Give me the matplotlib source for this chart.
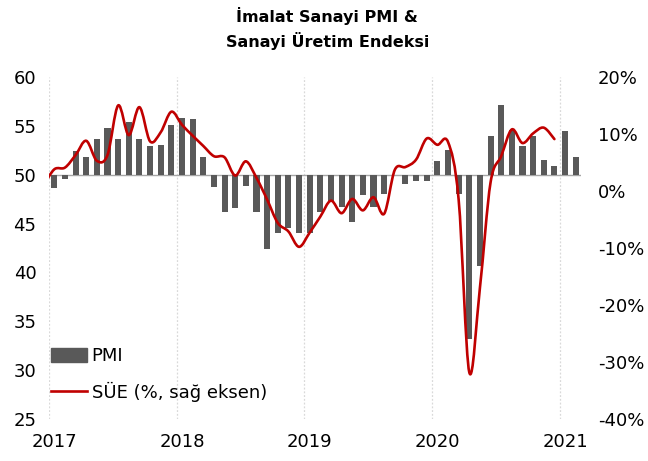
import matplotlib
matplotlib.use("Agg")
import matplotlib.pyplot as plt
import numpy as np
import pandas as pd
from matplotlib.path import Path
from matplotlib.patches import PathPatch, Patch
from matplotlib.lines import Line2D
from matplotlib.ticker import FuncFormatter

# aylar: Ocak 2017 - Subat 2021
aylar = pd.date_range("2017-01-01", "2021-02-01", freq="MS")
yillar = ["2017", "2018", "2019", "2020", "2021"]

pmi = [48.6, 49.6, 52.4, 51.8, 53.7, 54.8, 53.7, 55.4, 53.7, 52.9, 53.0, 55.1,
       55.8, 55.7, 51.8, 48.7, 46.2, 46.6, 48.8, 46.2, 42.4, 44.0, 44.5, 44.0,
       44.0, 46.2, 47.2, 46.7, 45.2, 47.9, 46.7, 48.0, 50.0, 49.0, 49.4, 49.4,
       51.4, 52.5, 48.0, 33.2, 40.7, 54.0, 57.1, 54.6, 52.9, 54.0, 51.5, 50.9,
       54.5, 51.8]

# SUE yillik degisim (%), Aralik 2016 - Aralik 2020
sue_aylar = pd.date_range("2016-12-01", "2020-12-01", freq="MS")
sue = [1.0,
       3.8, 4.1, 6.3, 8.8, 5.3, 6.3, 15.0, 9.8, 14.7, 8.7, 10.3, 13.9,
       11.6, 9.7, 7.9, 6.1, 5.9, 2.7, 5.2, 2.3, -1.5, -5.6, -7.1, -9.8,
       -7.3, -4.5, -1.7, -3.9, -1.4, -3.4, -1.1, -4.0, 3.7, 4.2, 5.5, 9.2,
       8.1, 8.6, -1.5, -31.8, -17.0, 1.5, 6.1, 10.8, 8.4, 10.1, 11.1, 9.1]

bar_renk = "#595959"
cizgi_renk = "#C00000"


def ay_index(tarihler):
    bas = aylar[0]
    return np.array([(t.year - bas.year) * 12 + (t.month - bas.month) + 0.5 for t in tarihler])


def smooth_path(x, y):
    # excel tarzi yumusatilmis cizgi (catmull-rom -> bezier)
    pts = np.column_stack([x, y])
    ext = np.vstack([pts[0], pts, pts[-1]])
    verts = [pts[0]]
    codes = [Path.MOVETO]
    for i in range(1, len(ext) - 2):
        p0, p1, p2, p3 = ext[i - 1], ext[i], ext[i + 1], ext[i + 2]
        c1 = p1 + (p2 - p0) / 6.0
        c2 = p2 - (p3 - p1) / 6.0
        verts += [c1, c2, p2]
        codes += [Path.CURVE4] * 3
    return Path(verts, codes)


plt.rcParams["font.family"] = ["DejaVu Sans"]
fig = plt.figure(figsize=(6.48, 4.61), dpi=100)
ax = fig.add_axes([0.0756, 0.0911, 0.821, 0.742])

x_pmi = ay_index(aylar)
ax.bar(x_pmi, np.array(pmi) - 50, bottom=50, width=0.57, color=bar_renk, zorder=2)
ax.axhline(50, color="#A6A6A6", lw=1.0, zorder=1)
for g in range(0, 50, 12):
    ax.axvline(g, color="#D9D9D9", lw=0.9, ls=(0, (1.5, 1.5)), zorder=0)

ax.set_xlim(0, 50)
ax.set_ylim(25, 60)
ax.set_yticks(range(25, 61, 5))
ax.set_xticks([0.5 + 12 * i for i in range(len(yillar))])
ax.set_xticklabels(yillar)
ax.tick_params(axis="x", length=0, pad=10, labelsize=13, colors="#000000")
ax.tick_params(axis="y", length=0, pad=9, labelsize=13)
for s in ax.spines.values():
    s.set_visible(False)

ax2 = ax.twinx()
ax2.set_ylim(-40, 20)
ax2.set_yticks(range(-40, 21, 10))
ax2.yaxis.set_major_formatter(FuncFormatter(lambda v, p: f"{v:.0f}%"))
ax2.tick_params(axis="y", length=0, pad=12, labelsize=13)
for s in ax2.spines.values():
    s.set_visible(False)

yol = smooth_path(ay_index(sue_aylar), sue)
ax2.add_patch(PathPatch(yol, fill=False, edgecolor=cizgi_renk, lw=1.9,
                        capstyle="round", joinstyle="round", zorder=3))

tutamaklar = [Patch(color=bar_renk, label="PMI"),
              Line2D([], [], color=cizgi_renk, lw=1.9, label="SÜE (%, sağ eksen)")]
ax2.legend(handles=tutamaklar, loc="lower left", bbox_to_anchor=(-0.01, 0.03),
           frameon=False, fontsize=13, handlelength=2.0, handleheight=0.8,
           handletextpad=0.25, labelspacing=0.9, borderaxespad=0.0)

fig.suptitle("İmalat Sanayi PMI &\nSanayi Üretim Endeksi", x=0.505, y=0.985,
             fontsize=11.5, fontweight="bold", linespacing=1.5)

fig.savefig("out.png", dpi=100)
